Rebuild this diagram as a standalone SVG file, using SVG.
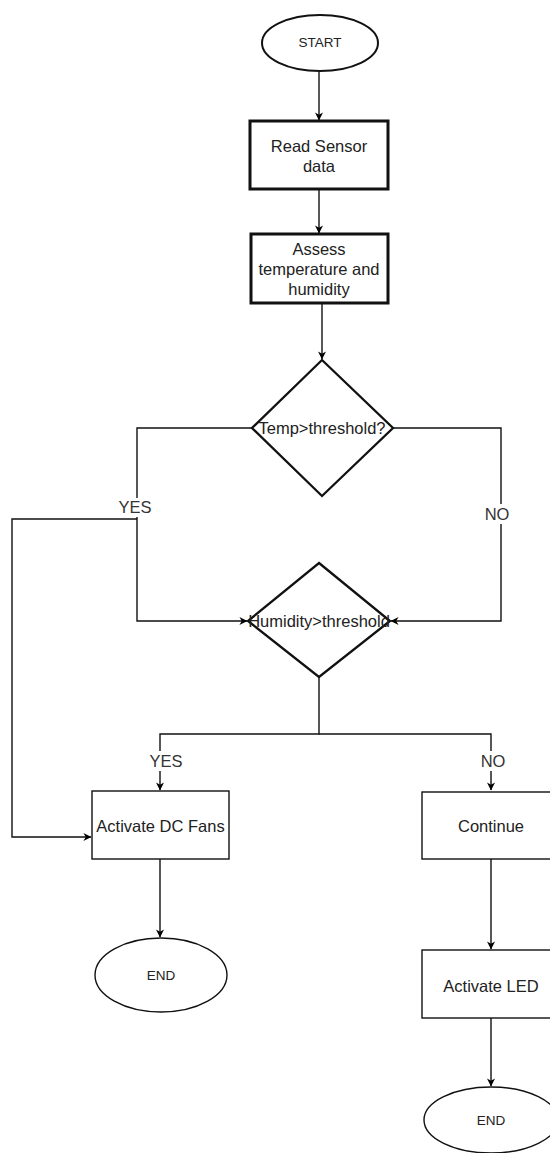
<svg xmlns="http://www.w3.org/2000/svg" width="550" height="1153" viewBox="0 0 550 1153">
<defs>
<marker id="arr" viewBox="0 0 10 10" refX="9.5" refY="5" markerWidth="9" markerHeight="8" markerUnits="userSpaceOnUse" orient="auto">
<path d="M0,0 L10,5 L0,10 L3,5 Z" fill="#000"/>
</marker>
<style>
.lbl{font-family:"Liberation Sans",Arial,sans-serif;font-size:16.5px;fill:#222;text-anchor:middle}
.sm{font-family:"Liberation Sans",Arial,sans-serif;font-size:13.5px;fill:#222;text-anchor:middle}
.edge{fill:none;stroke:#111;stroke-width:1.4}
.thick{fill:#fff;stroke:#111;stroke-width:3}
.dia{fill:#fff;stroke:#111;stroke-width:2.3}
.thin{fill:#fff;stroke:#111;stroke-width:1.4}
.elab{font-family:"Liberation Sans",Arial,sans-serif;font-size:16.5px;fill:#333;text-anchor:middle}
</style>
</defs>
<rect width="550" height="1153" fill="#fff"/>
<g id="connectors">
<path class="edge" d="M319,72 L319,120" marker-end="url(#arr)"/>
<path class="edge" d="M319,189 L319,233" marker-end="url(#arr)"/>
<path class="edge" d="M322,303 L322,359" marker-end="url(#arr)"/>
<path class="edge" d="M252,428 L137,428 L137,621 L247,621" marker-end="url(#arr)"/>
<path class="edge" d="M393,428 L501,428 L501,621 L391,621" marker-end="url(#arr)"/>
<path class="edge" d="M137,519 L12,519 L12,837 L91,837" marker-end="url(#arr)"/>
<path class="edge" d="M319,677 L319,734 L160,734 L160,790" marker-end="url(#arr)"/>
<path class="edge" d="M319,734 L491,734 L491,790" marker-end="url(#arr)"/>
<path class="edge" d="M160,859 L160,937" marker-end="url(#arr)"/>
<path class="edge" d="M491,859 L491,949" marker-end="url(#arr)"/>
<path class="edge" d="M491,1018 L491,1086" marker-end="url(#arr)"/>
<rect x="118" y="498" width="36" height="19" fill="#fff"/>
<text class="elab" x="135" y="513">YES</text>
<rect x="483" y="504" width="28" height="20" fill="#fff"/>
<text class="elab" x="497" y="520">NO</text>
<rect x="148" y="751" width="36" height="20" fill="#fff"/>
<text class="elab" x="166" y="767">YES</text>
<rect x="479" y="751" width="28" height="20" fill="#fff"/>
<text class="elab" x="493" y="767">NO</text>
</g>
<g id="start">
<ellipse cx="320" cy="43" rx="58" ry="28" fill="#fff" stroke="#111" stroke-width="2"/>
<text class="sm" x="320" y="47">START</text>
</g>
<g id="read">
<rect class="thick" x="250" y="121" width="138" height="68"/>
<text class="lbl" x="319" y="152">Read Sensor</text>
<text class="lbl" x="319" y="172">data</text>
</g>
<g id="assess">
<rect class="thick" x="251" y="234" width="137" height="69"/>
<text class="lbl" x="319" y="255">Assess</text>
<text class="lbl" x="319" y="275">temperature and</text>
<text class="lbl" x="319" y="295">humidity</text>
</g>
<g id="temp">
<path class="dia" d="M322,360 L393,428 L322,496 L252,428 Z"/>
<text class="lbl" x="322" y="434">Temp&gt;threshold?</text>
</g>
<g id="humidity">
<path class="dia" d="M319,563 L390,621 L319,677 L248,621 Z"/>
<text class="lbl" x="319" y="627">Humidity&gt;threshold</text>
</g>
<g id="fans">
<rect class="thin" x="92" y="791" width="137" height="68"/>
<text class="lbl" x="160.5" y="832">Activate DC Fans</text>
</g>
<g id="end1">
<ellipse class="thin" cx="161" cy="975" rx="66" ry="37"/>
<text class="sm" x="161" y="980">END</text>
</g>
<g id="continue">
<rect class="thin" x="422" y="792" width="137" height="67"/>
<text class="lbl" x="491" y="832">Continue</text>
</g>
<g id="led">
<rect class="thin" x="422" y="950" width="137" height="68"/>
<text class="lbl" x="491" y="992">Activate LED</text>
</g>
<g id="end2">
<ellipse class="thin" cx="491" cy="1120" rx="67" ry="33"/>
<text class="sm" x="491" y="1125">END</text>
</g>
</svg>
